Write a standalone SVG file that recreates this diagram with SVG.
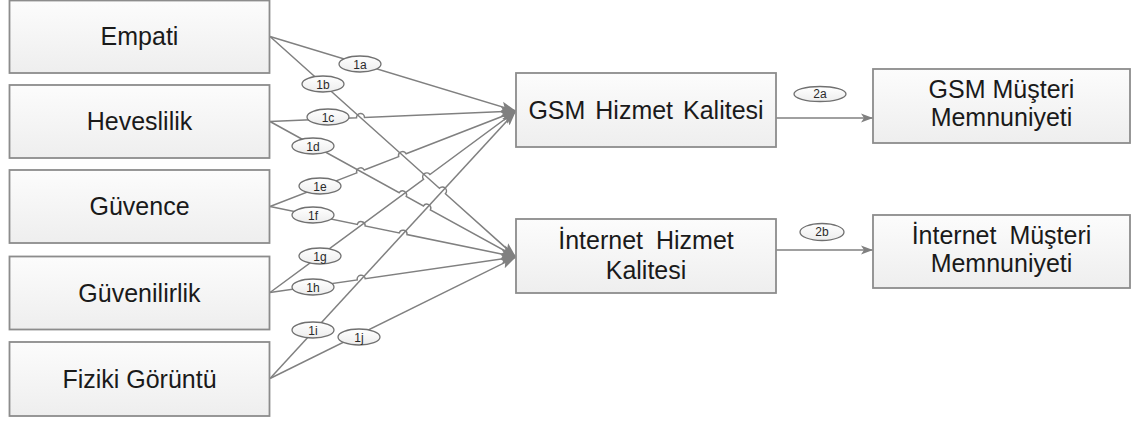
<svg xmlns="http://www.w3.org/2000/svg" width="1131" height="421" viewBox="0 0 1131 421">
  <defs>
    <linearGradient id="boxFill" x1="0" y1="0" x2="0" y2="1">
      <stop offset="0" stop-color="#fcfcfc"/>
      <stop offset="1" stop-color="#eeeeee"/>
    </linearGradient>
    <linearGradient id="tagFill" x1="0" y1="0" x2="0" y2="1">
      <stop offset="0" stop-color="#ffffff"/>
      <stop offset="1" stop-color="#ededed"/>
    </linearGradient>
    <marker id="arrow" markerUnits="userSpaceOnUse" markerWidth="16" markerHeight="12" refX="15" refY="6" orient="auto">
      <path d="M0,1 L15,6 L0,11 L3,6 Z" fill="#808080"/>
    </marker>
    <marker id="arrowSmall" markerUnits="userSpaceOnUse" markerWidth="14" markerHeight="12" refX="13" refY="6" orient="auto">
      <path d="M1,1.5 L13,6 L1,10.5 L4,6 Z" fill="#808080"/>
    </marker>
  </defs>
  <style>
    .box { fill: url(#boxFill); stroke: #8c8c8c; stroke-width: 1.8; }
    .label { font-family: "Liberation Sans", Arial, sans-serif; font-size: 25px; fill: #1a1a1a; text-anchor: middle; }
    .link { fill: none; stroke: #808080; stroke-width: 1.5; }
    .tag { fill: url(#tagFill); stroke: #707070; stroke-width: 1.3; }
    .tagText { font-family: "Liberation Sans", Arial, sans-serif; font-size: 12px; fill: #2a2a2a; text-anchor: middle; }
  </style>

  <!-- connectors: dimensions to service quality, with line jumps at crossings -->
  <g id="connectors">
    <path id="c1a" class="link" marker-end="url(#arrow)" d="M270,36.5 L516,111"/>
    <path id="c1b" class="link" marker-end="url(#arrow)" d="M270,36.5 L439.4,188.3 A4,4 0 0 1 445.4,193.7 L516,257"/>
    <path id="c1c" class="link" marker-end="url(#arrow)" d="M270,121.5 L356.5,117.8 A4,4 0 0 1 364.5,117.4 L516,111"/>
    <path id="c1d" class="link" marker-end="url(#arrow)" d="M270,121.5 L399.2,192.7 A4,4 0 0 1 406.2,196.5 L423.4,206.0 A4,4 0 0 1 430.4,209.8 L516,257"/>
    <path id="c1e" class="link" marker-end="url(#arrow)" d="M270,206.5 L356.8,172.9 A4,4 0 0 1 364.2,170.0 L398.7,156.6 A4,4 0 0 1 406.1,153.7 L516,111"/>
    <path id="c1f" class="link" marker-end="url(#arrow)" d="M270,206.5 L357.3,224.4 A4,4 0 0 1 365.1,226.0 L399.2,233.0 A4,4 0 0 1 407.0,234.6 L516,257"/>
    <path id="c1g" class="link" marker-end="url(#arrow)" d="M270,292.5 L423.5,179.3 A4,4 0 0 1 429.9,174.5 L516,111"/>
    <path id="c1h" class="link" marker-end="url(#arrow)" d="M270,292.5 L357.2,279.9 A4,4 0 0 1 365.2,278.7 L516,257"/>
    <path id="c1i" class="link" marker-end="url(#arrow)" d="M270,378.5 L516,111"/>
    <path id="c1j" class="link" marker-end="url(#arrow)" d="M270,378.5 L516,257"/>
    <path id="c2a" class="link" marker-end="url(#arrowSmall)" d="M776,118 L873,118"/>
    <path id="c2b" class="link" marker-end="url(#arrowSmall)" d="M776,250 L873,250"/>

    <!-- path labels -->
    <g id="tag1a"><ellipse class="tag" cx="360" cy="64" rx="21" ry="8"/><text class="tagText" x="360" y="68.5">1a</text></g>
    <g id="tag1b"><ellipse class="tag" cx="323" cy="84" rx="21" ry="8"/><text class="tagText" x="323" y="88.5">1b</text></g>
    <g id="tag1c"><ellipse class="tag" cx="328" cy="117" rx="21" ry="8"/><text class="tagText" x="328" y="121.5">1c</text></g>
    <g id="tag1d"><ellipse class="tag" cx="313" cy="146" rx="21" ry="8"/><text class="tagText" x="313" y="150.5">1d</text></g>
    <g id="tag1e"><ellipse class="tag" cx="320" cy="186" rx="21" ry="8"/><text class="tagText" x="320" y="190.5">1e</text></g>
    <g id="tag1f"><ellipse class="tag" cx="313" cy="215" rx="21" ry="8"/><text class="tagText" x="313" y="219.5">1f</text></g>
    <g id="tag1g"><ellipse class="tag" cx="320" cy="256" rx="21" ry="8"/><text class="tagText" x="320" y="260.5">1g</text></g>
    <g id="tag1h"><ellipse class="tag" cx="313" cy="287" rx="21" ry="8"/><text class="tagText" x="313" y="291.5">1h</text></g>
    <g id="tag1i"><ellipse class="tag" cx="313" cy="330" rx="21" ry="8"/><text class="tagText" x="313" y="334.5">1i</text></g>
    <g id="tag1j"><ellipse class="tag" cx="359" cy="337" rx="21" ry="8"/><text class="tagText" x="359" y="341.5">1j</text></g>
    <g id="tag2a"><ellipse class="tag" cx="820" cy="94" rx="26" ry="7.5"/><text class="tagText" x="820" y="98" font-size="11">2a</text></g>
    <g id="tag2b"><ellipse class="tag" cx="822" cy="232" rx="22" ry="8.5"/><text class="tagText" x="822" y="236" font-size="11">2b</text></g>
  </g>

  <!-- service quality dimensions -->
  <g id="empati">
    <rect class="box" x="9.5" y="0.5" width="260" height="72.5"/>
    <text class="label" x="139.5" y="45">Empati</text>
  </g>
  <g id="heveslilik">
    <rect class="box" x="9.5" y="85" width="260" height="73"/>
    <text class="label" x="139.5" y="130">Heveslilik</text>
  </g>
  <g id="guvence">
    <rect class="box" x="9.5" y="170" width="260" height="73"/>
    <text class="label" x="139.5" y="215">Güvence</text>
  </g>
  <g id="guvenilirlik">
    <rect class="box" x="9.5" y="256.5" width="260" height="73"/>
    <text class="label" x="139.5" y="301.5">Güvenilirlik</text>
  </g>
  <g id="fiziki-goruntu">
    <rect class="box" x="9.5" y="342" width="260" height="74"/>
    <text class="label" x="139.5" y="387.5">Fiziki Görüntü</text>
  </g>

  <!-- service quality -->
  <g id="gsm-hizmet">
    <rect class="box" x="516" y="73" width="260" height="74"/>
    <text class="label" x="646" y="119" word-spacing="3">GSM Hizmet Kalitesi</text>
  </g>
  <g id="internet-hizmet">
    <rect class="box" x="516" y="219" width="260" height="74"/>
    <text class="label" x="646" y="249" word-spacing="6">İnternet Hizmet</text>
    <text class="label" x="646" y="279">Kalitesi</text>
  </g>

  <!-- customer satisfaction -->
  <g id="gsm-musteri">
    <rect class="box" x="873" y="69" width="257" height="74"/>
    <text class="label" x="1001.5" y="98">GSM Müşteri</text>
    <text class="label" x="1001.5" y="126">Memnuniyeti</text>
  </g>
  <g id="internet-musteri">
    <rect class="box" x="873" y="215" width="257" height="73"/>
    <text class="label" x="1001.5" y="244" word-spacing="6">İnternet Müşteri</text>
    <text class="label" x="1001.5" y="272">Memnuniyeti</text>
  </g>
</svg>
